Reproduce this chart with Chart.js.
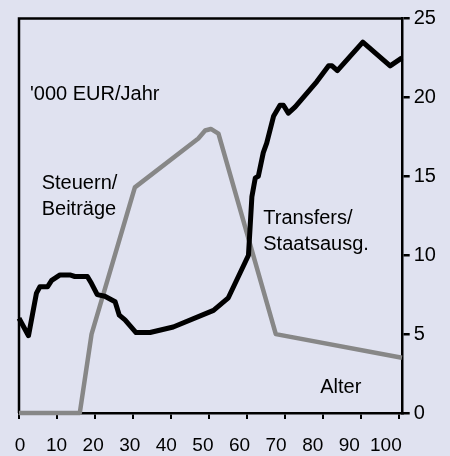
<!DOCTYPE html>
<html>
<head>
<meta charset="utf-8">
<script src="https://cdn.jsdelivr.net/npm/chart.js@4"></script>
<style>
  html, body { margin: 0; padding: 0; background: #e0e2f0; }
  #wrap { width: 450px; height: 456px; position: relative; background: #e0e2f0; }
</style>
</head>
<body>
<div id="wrap"><canvas id="chart"></canvas></div>
<script>
// Transfers / Staatsausgaben (black line)
const transferAges = [0, 2.5, 4.6, 5.5, 7.5, 8.6, 10.8, 13.4, 14.7, 18, 19.1, 20.6, 22.6, 25.3, 26.4, 27.9, 30.8, 34.5, 40.6, 51.2, 55.1, 60.4, 61.3, 62.2, 63, 64.3, 65.2, 67, 68.7, 69.6, 70.9, 72.7, 78.4, 81.5, 82.4, 83.8, 90.5, 97.7, 100.8];
const transferValues = [6.0, 4.9, 7.6, 8.0, 8.0, 8.4, 8.75, 8.75, 8.65, 8.65, 8.2, 7.5, 7.4, 7.05, 6.2, 5.9, 5.1, 5.1, 5.45, 6.5, 7.3, 10.0, 13.7, 14.9, 15.0, 16.5, 17.1, 18.8, 19.5, 19.5, 19.0, 19.4, 21.0, 22.0, 22.0, 21.7, 23.5, 22.0, 22.5];

// Steuern / Beiträge (grey line)
const taxAges = [0, 16, 19.1, 30.5, 47.2, 49, 50.5, 52.5, 67.6, 100.8];
const taxValues = [0, 0, 5.0, 14.3, 17.4, 17.9, 18.0, 17.7, 5.0, 3.5];

const xTicks = [0, 10, 20, 30, 40, 50, 60, 70, 80, 90, 100];
const yTicks = [0, 5, 10, 15, 20, 25];

const notes = [
  { text: "'000 EUR/Jahr", age: 2.9, val: 19.83 },
  { text: 'Steuern/', age: 5.98, val: 14.18 },
  { text: 'Beiträge', age: 5.98, val: 12.55 },
  { text: 'Transfers/', age: 64.3, val: 11.98 },
  { text: 'Staatsausg.', age: 64.3, val: 10.33 },
  { text: 'Alter', age: 79.3, val: 1.25 }
];

const font = 'Liberation Sans, Arial, sans-serif';

const toPoints = (xs, ys) => xs.map((x, i) => ({ x: x, y: ys[i] }));

// left and top frame lines + text labels
const frame = {
  id: 'frame',
  beforeDatasetsDraw(chart) {
    const { ctx, chartArea } = chart;
    ctx.save();
    ctx.strokeStyle = '#000';
    ctx.lineWidth = 2.5;
    ctx.beginPath();
    ctx.moveTo(chartArea.left, chartArea.bottom);
    ctx.lineTo(chartArea.left, chartArea.top);
    ctx.lineTo(chartArea.right, chartArea.top);
    ctx.stroke();
    ctx.restore();
  },
  afterDatasetsDraw(chart) {
    const { ctx } = chart;
    const xs = chart.scales.x, ys = chart.scales.y;
    ctx.save();
    ctx.fillStyle = '#000';
    ctx.font = '20px ' + font;
    ctx.textAlign = 'left';
    ctx.textBaseline = 'alphabetic';
    notes.forEach(n => {
      ctx.fillText(n.text, xs.getPixelForValue(n.age), ys.getPixelForValue(n.val));
    });
    ctx.restore();
  }
};

new Chart(document.getElementById('chart'), {
  type: 'line',
  data: {
    datasets: [
      {
        label: 'Transfers/Staatsausg.',
        data: toPoints(transferAges, transferValues),
        borderColor: '#000000',
        borderWidth: 5,
        pointRadius: 0,
        tension: 0,
        clip: false,
        borderJoinStyle: 'round'
      },
      {
        label: 'Steuern/Beiträge',
        data: toPoints(taxAges, taxValues),
        borderColor: '#878787',
        borderWidth: 4.5,
        pointRadius: 0,
        tension: 0,
        clip: false,
        borderJoinStyle: 'round'
      }
    ]
  },
  options: {
    responsive: true,
    maintainAspectRatio: false,
    animation: false,
    layout: { padding: { left: 19, top: 18.5, right: 0, bottom: 0 } },
    plugins: { legend: { display: false }, tooltip: { enabled: false } },
    scales: {
      x: {
        type: 'linear',
        position: 'bottom',
        weight: 0,
        min: 0,
        max: 101,
        afterBuildTicks: (s) => { s.ticks = xTicks.map(v => ({ value: v })); },
        ticks: { display: false },
        grid: { drawOnChartArea: false, color: '#000', lineWidth: 2, tickLength: 6 },
        border: { color: '#000', width: 2.5 },
        afterFit: (s) => { s.height = 6; }
      },
      xl: {
        type: 'linear',
        position: 'bottom',
        weight: 1,
        min: -0.27,
        max: 104.6,
        afterBuildTicks: (s) => { s.ticks = xTicks.map(v => ({ value: v })); },
        ticks: { autoSkip: false, maxRotation: 0, padding: 7, color: '#000', font: { family: font, size: 19 } },
        grid: { display: false },
        border: { display: false },
        afterFit: (s) => { s.height = 37; }
      },
      y: {
        type: 'linear',
        position: 'right',
        min: 0,
        max: 25,
        afterBuildTicks: (s) => { s.ticks = yTicks.map(v => ({ value: v })); },
        ticks: { padding: 4, color: '#000', font: { family: font, size: 20 } },
        grid: { drawOnChartArea: false, color: '#000', lineWidth: 2.5, tickLength: 7 },
        border: { color: '#000', width: 2.5 },
        afterFit: (s) => { s.width = 47.3; }
      }
    }
  },
  plugins: [frame]
});
</script>
</body>
</html>
